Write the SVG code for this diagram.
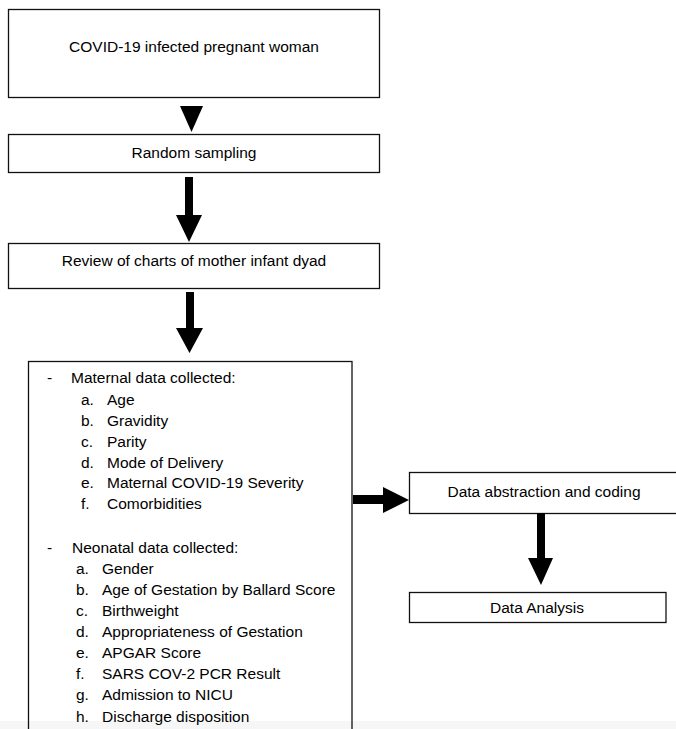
<svg xmlns="http://www.w3.org/2000/svg" width="676" height="729" viewBox="0 0 676 729">
<style>
.box{fill:none;stroke:#111;stroke-width:1.3}
.t{font-family:"Liberation Sans",Arial,sans-serif;font-size:15.5px;fill:#000}
.c{text-anchor:middle}
.arr{fill:#000;stroke:none}
</style>
<rect x="0" y="0" width="676" height="729" fill="#fff"/>
<rect x="0" y="721" width="676" height="8" fill="#f6f6f6"/>

<g id="n1">
<rect class="box" x="8.5" y="9.5" width="371" height="88"/>
<text class="t c" x="194" y="52">COVID-19 infected pregnant woman</text>
</g>
<g id="n2">
<rect class="box" x="8.5" y="134.5" width="371" height="38"/>
<text class="t c" x="194" y="158">Random sampling</text>
</g>
<g id="n3">
<rect class="box" x="8.5" y="243.5" width="371" height="45"/>
<text class="t c" x="194" y="266">Review of charts of mother infant dyad</text>
</g>
<g id="n4">
<rect class="box" x="28.5" y="361.5" width="323.5" height="400"/>
<g class="t">
<text x="47" y="383">-</text>
<text x="71" y="383">Maternal data collected:</text>
<text x="81" y="405">a.</text><text x="107" y="405">Age</text>
<text x="81" y="426">b.</text><text x="107" y="426">Gravidity</text>
<text x="81" y="447">c.</text><text x="107" y="447">Parity</text>
<text x="81" y="468">d.</text><text x="107" y="468">Mode of Delivery</text>
<text x="81" y="488">e.</text><text x="107" y="488">Maternal COVID-19 Severity</text>
<text x="81" y="509">f.</text><text x="107" y="509">Comorbidities</text>
<text x="47" y="553">-</text>
<text x="72" y="553">Neonatal data collected:</text>
<text x="76" y="574">a.</text><text x="102" y="574">Gender</text>
<text x="76" y="595">b.</text><text x="102" y="595">Age of Gestation by Ballard Score</text>
<text x="76" y="616">c.</text><text x="102" y="616">Birthweight</text>
<text x="76" y="637">d.</text><text x="102" y="637">Appropriateness of Gestation</text>
<text x="76" y="658">e.</text><text x="102" y="658">APGAR Score</text>
<text x="76" y="679">f.</text><text x="102" y="679">SARS COV-2 PCR Result</text>
<text x="76" y="700">g.</text><text x="102" y="700">Admission to NICU</text>
<text x="76" y="722">h.</text><text x="102" y="722">Discharge disposition</text>
</g>
</g>
<g id="n5">
<rect class="box" x="409.5" y="472.5" width="280" height="41"/>
<text class="t c" x="544" y="497">Data abstraction and coding</text>
</g>
<g id="n6">
<rect class="box" x="409.5" y="592.5" width="256.5" height="30"/>
<text class="t c" x="537" y="613">Data Analysis</text>
</g>

<g id="connectors">
<polygon class="arr" points="180,106 203,106 191.5,132"/>
<polygon class="arr" points="185,177 193,177 193,215 202,215 189,242 176,215 185,215"/>
<polygon class="arr" points="186,292 194,292 194,328 203,328 189.5,353 176,328 186,328"/>
<polygon class="arr" points="353,495 383,495 383,487 409,500 383,513 383,504 353,504"/>
<polygon class="arr" points="537,513 545,513 545,558 553,558 541,585 528,558 537,558"/>
</g>
</svg>
